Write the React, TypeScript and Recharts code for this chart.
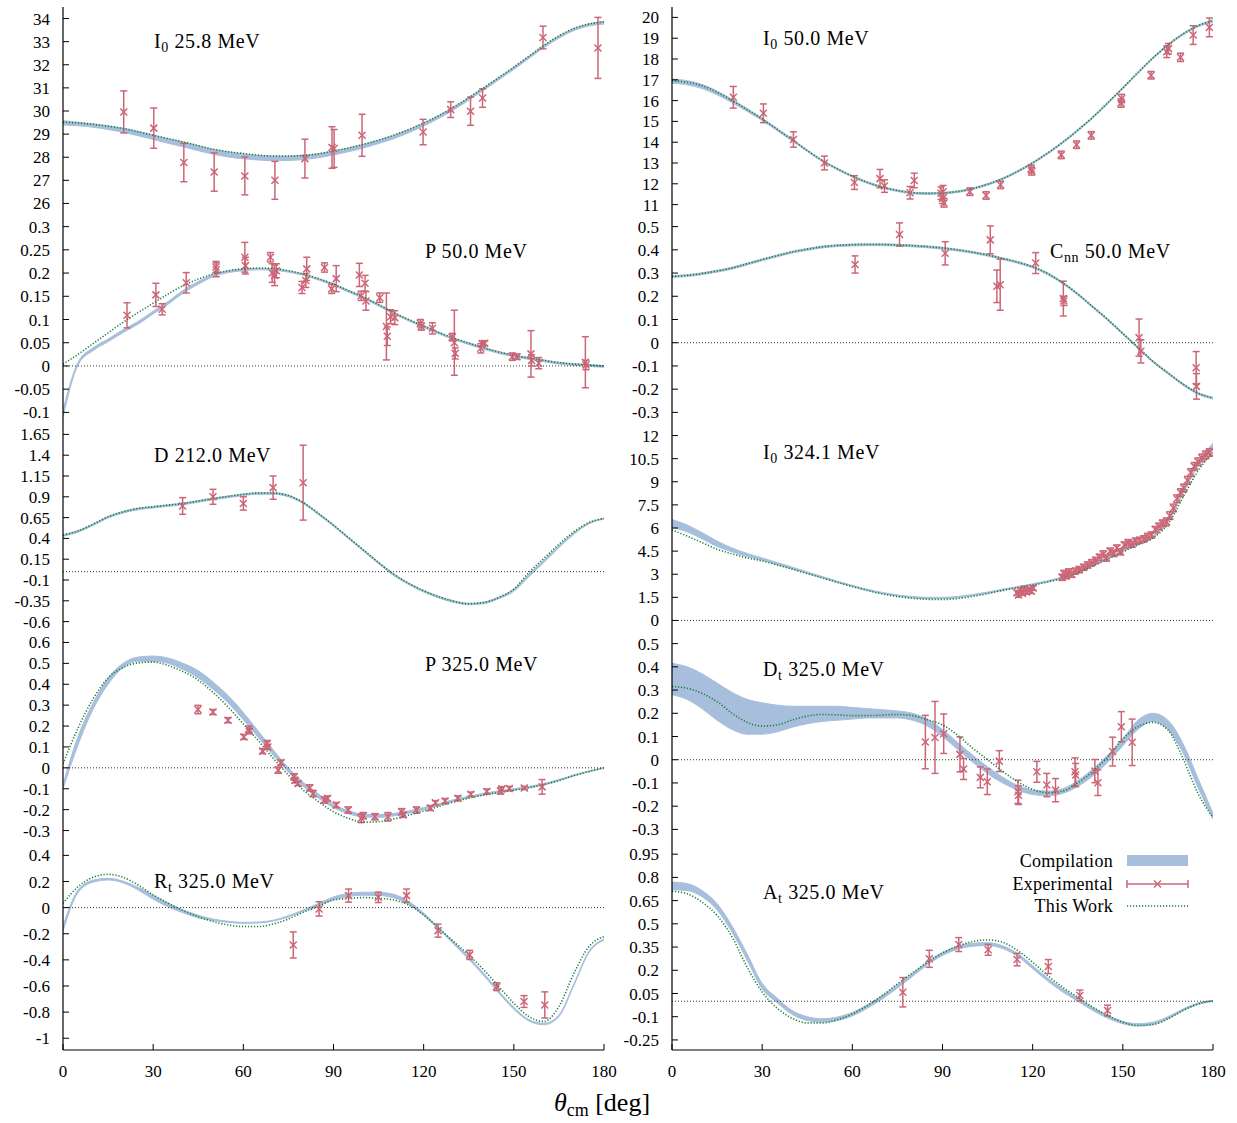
import React from 'react';
import { ComposedChart, Area, Line, Scatter, ErrorBar, XAxis, YAxis, ReferenceLine } from 'recharts';

const FONT = '"Liberation Serif", "DejaVu Serif", serif';
const RED = '#cc6677';
const BLUE = '#a7bfdc';
const GREEN = '#1a7f3a';

const THETA = [0, 5, 10, 15, 20, 25, 30, 35, 40, 45, 50, 55, 60, 65, 70, 75, 80, 85, 90, 95, 100, 105, 110, 115, 120, 125, 130, 135, 140, 145, 150, 155, 160, 165, 170, 175, 180];
const X_TICKS = [0, 30, 60, 90, 120, 150, 180];

// I0 25.8 MeV
const I0_25_TICKS = [26, 27, 28, 29, 30, 31, 32, 33, 34];
const I0_25_WORK = [29.52, 29.48, 29.42, 29.34, 29.24, 29.1, 28.95, 28.8, 28.66, 28.5, 28.34, 28.24, 28.16, 28.09, 28.05, 28.05, 28.08, 28.15, 28.27, 28.4, 28.56, 28.74, 28.95, 29.2, 29.48, 29.8, 30.17, 30.58, 31.01, 31.45, 31.9, 32.37, 32.84, 33.25, 33.57, 33.77, 33.85];
const I0_25_LO = [29.4, 29.36, 29.3, 29.2, 29.08, 28.93, 28.77, 28.6, 28.45, 28.28, 28.13, 28.01, 27.93, 27.88, 27.85, 27.86, 27.9, 27.98, 28.1, 28.24, 28.4, 28.59, 28.8, 29.06, 29.35, 29.68, 30.05, 30.47, 30.9, 31.35, 31.8, 32.27, 32.74, 33.15, 33.48, 33.68, 33.76];
const I0_25_HI = [29.58, 29.52, 29.45, 29.36, 29.26, 29.12, 28.96, 28.8, 28.66, 28.5, 28.34, 28.23, 28.14, 28.08, 28.05, 28.05, 28.08, 28.15, 28.27, 28.4, 28.56, 28.74, 28.95, 29.2, 29.48, 29.8, 30.17, 30.58, 31.01, 31.45, 31.9, 32.37, 32.84, 33.25, 33.57, 33.77, 33.88];
const I0_25_EXP = [[20.2, 29.96, 0.91], [30.2, 29.26, 0.87], [40.2, 27.77, 0.83], [50.3, 27.36, 0.83], [60.5, 27.19, 0.82], [70.5, 27.0, 0.82], [80.5, 27.94, 0.84], [89.5, 28.42, 0.9], [90.2, 28.38, 0.82], [99.5, 28.95, 0.91], [119.8, 29.09, 0.55], [129.0, 30.06, 0.34], [135.6, 29.99, 0.61], [139.6, 30.56, 0.4], [159.7, 33.18, 0.49], [178.0, 32.73, 1.32]];

// I0 50.0 MeV
const I0_50_TICKS = [11, 12, 13, 14, 15, 16, 17, 18, 19, 20];
const I0_50_WORK = [16.96, 16.88, 16.72, 16.4, 16.0, 15.57, 15.12, 14.62, 14.12, 13.6, 13.12, 12.72, 12.37, 12.07, 11.84, 11.68, 11.57, 11.54, 11.56, 11.63, 11.77, 11.98, 12.25, 12.6, 13.01, 13.48, 14.0, 14.58, 15.2, 15.9, 16.61, 17.35, 18.05, 18.68, 19.2, 19.6, 19.84];
const I0_50_LO = [16.84, 16.76, 16.58, 16.28, 15.9, 15.48, 15.04, 14.55, 14.06, 13.55, 13.07, 12.67, 12.32, 12.02, 11.79, 11.63, 11.52, 11.49, 11.51, 11.58, 11.72, 11.93, 12.2, 12.55, 12.96, 13.43, 13.95, 14.53, 15.15, 15.85, 16.56, 17.3, 18.0, 18.63, 19.15, 19.55, 19.78];
const I0_50_HI = [17.04, 16.96, 16.78, 16.46, 16.06, 15.62, 15.16, 14.66, 14.15, 13.63, 13.15, 12.75, 12.4, 12.1, 11.87, 11.71, 11.6, 11.57, 11.59, 11.66, 11.8, 12.01, 12.28, 12.63, 13.04, 13.51, 14.03, 14.61, 15.23, 15.93, 16.64, 17.38, 18.08, 18.71, 19.23, 19.63, 19.88];
const I0_50_EXP = [[20.4, 16.16, 0.52], [30.4, 15.39, 0.45], [40.4, 14.13, 0.37], [50.7, 13.0, 0.33], [60.7, 12.06, 0.33], [69.2, 12.25, 0.44], [70.7, 11.89, 0.3], [79.2, 11.57, 0.3], [80.6, 12.16, 0.35], [89.5, 11.55, 0.3], [90.0, 11.3, 0.25], [90.5, 11.08, 0.2], [90.2, 11.62, 0.3], [99.1, 11.62, 0.18], [104.5, 11.44, 0.18], [109.3, 11.95, 0.18], [119.5, 12.72, 0.18], [119.7, 12.6, 0.18], [129.5, 13.39, 0.18], [134.6, 13.88, 0.18], [139.5, 14.33, 0.18], [149.4, 15.88, 0.2], [149.6, 16.1, 0.2], [159.4, 17.22, 0.18], [164.6, 18.35, 0.28], [165.2, 18.5, 0.25], [169.2, 18.08, 0.2], [173.4, 19.15, 0.45], [178.8, 19.52, 0.45]];

// P 50.0 MeV
const P50_TICKS = [-0.1, -0.05, 0, 0.05, 0.1, 0.15, 0.2, 0.25, 0.3];
const P50_WORK = [0.004, 0.025, 0.048, 0.071, 0.094, 0.115, 0.135, 0.155, 0.173, 0.187, 0.198, 0.205, 0.209, 0.211, 0.21, 0.205, 0.198, 0.188, 0.176, 0.162, 0.148, 0.132, 0.115, 0.1, 0.086, 0.072, 0.06, 0.049, 0.039, 0.03, 0.023, 0.017, 0.012, 0.007, 0.004, 0.002, 0.0];
const P50_LO = [-0.11, 0.002, 0.033, 0.052, 0.072, 0.09, 0.112, 0.133, 0.157, 0.176, 0.192, 0.201, 0.205, 0.207, 0.206, 0.202, 0.195, 0.185, 0.173, 0.159, 0.145, 0.129, 0.112, 0.097, 0.083, 0.069, 0.057, 0.046, 0.036, 0.027, 0.02, 0.014, 0.009, 0.004, 0.001, -0.001, -0.003];
const P50_HI = [-0.095, 0.008, 0.039, 0.058, 0.078, 0.096, 0.118, 0.139, 0.163, 0.182, 0.197, 0.205, 0.209, 0.21, 0.209, 0.205, 0.198, 0.188, 0.177, 0.163, 0.149, 0.133, 0.116, 0.1, 0.087, 0.073, 0.06, 0.05, 0.04, 0.031, 0.024, 0.018, 0.013, 0.008, 0.005, 0.003, 0.001];
const P50_EXP = [[21.3, 0.109, 0.027], [30.9, 0.153, 0.025], [33.0, 0.122, 0.012], [41.0, 0.179, 0.022], [50.9, 0.213, 0.012], [51.0, 0.207, 0.015], [60.5, 0.234, 0.032], [60.7, 0.216, 0.018], [69.0, 0.234, 0.01], [69.6, 0.2, 0.02], [70.4, 0.195, 0.022], [71.0, 0.205, 0.015], [79.5, 0.169, 0.013], [80.8, 0.184, 0.015], [81.1, 0.209, 0.025], [87.0, 0.212, 0.01], [89.4, 0.166, 0.01], [90.9, 0.188, 0.028], [98.6, 0.196, 0.025], [99.2, 0.151, 0.01], [100.5, 0.178, 0.017], [100.8, 0.14, 0.02], [105.4, 0.147, 0.01], [107.6, 0.085, 0.072], [107.9, 0.064, 0.02], [109.0, 0.106, 0.015], [110.4, 0.104, 0.015], [118.9, 0.092, 0.008], [119.2, 0.085, 0.008], [122.9, 0.081, 0.012], [129.5, 0.062, 0.008], [130.2, 0.05, 0.07], [130.5, 0.027, 0.012], [139.0, 0.038, 0.01], [139.5, 0.048, 0.005], [140.3, 0.049, 0.005], [149.5, 0.02, 0.008], [151.0, 0.02, 0.006], [155.7, 0.026, 0.05], [155.9, 0.012, 0.012], [158.3, 0.006, 0.012], [173.8, 0.008, 0.055], [174.0, 0.002, 0.01]];

// Cnn 50.0 MeV
const CNN_TICKS = [-0.3, -0.2, -0.1, 0, 0.1, 0.2, 0.3, 0.4, 0.5];
const CNN_WORK = [0.286, 0.29, 0.298, 0.309, 0.322, 0.34, 0.358, 0.375, 0.391, 0.403, 0.413, 0.419, 0.422, 0.423, 0.423, 0.421, 0.418, 0.414, 0.408, 0.4, 0.39, 0.378, 0.363, 0.347, 0.327, 0.298, 0.258, 0.21, 0.155, 0.1, 0.04, -0.02, -0.08, -0.13, -0.178, -0.217, -0.238];
const CNN_LO = [0.281, 0.285, 0.293, 0.304, 0.317, 0.335, 0.353, 0.37, 0.386, 0.398, 0.408, 0.414, 0.417, 0.418, 0.418, 0.416, 0.413, 0.409, 0.403, 0.395, 0.385, 0.373, 0.358, 0.342, 0.322, 0.293, 0.253, 0.205, 0.15, 0.095, 0.035, -0.025, -0.085, -0.135, -0.183, -0.222, -0.243];
const CNN_HI = [0.289, 0.293, 0.301, 0.312, 0.325, 0.343, 0.361, 0.378, 0.394, 0.406, 0.416, 0.422, 0.425, 0.426, 0.426, 0.424, 0.421, 0.417, 0.411, 0.403, 0.393, 0.381, 0.366, 0.35, 0.33, 0.301, 0.261, 0.213, 0.158, 0.103, 0.043, -0.017, -0.077, -0.127, -0.175, -0.214, -0.235];
const CNN_EXP = [[60.9, 0.337, 0.037], [75.7, 0.466, 0.05], [90.9, 0.385, 0.05], [105.9, 0.443, 0.06], [108.1, 0.243, 0.07], [109.2, 0.25, 0.11], [121.0, 0.343, 0.045], [130.2, 0.19, 0.075], [130.4, 0.18, 0.02], [155.4, 0.022, 0.08], [156.0, -0.037, 0.05], [174.4, -0.108, 0.07], [174.5, -0.188, 0.055]];

// D 212.0 MeV
const D_TICKS = [-0.6, -0.35, -0.1, 0.15, 0.4, 0.65, 0.9, 1.15, 1.4, 1.65];
const D_WORK = [0.44, 0.49, 0.57, 0.66, 0.72, 0.76, 0.78, 0.8, 0.82, 0.85, 0.88, 0.905, 0.93, 0.945, 0.945, 0.915, 0.83, 0.7, 0.56, 0.41, 0.26, 0.11, -0.03, -0.14, -0.23, -0.3, -0.355, -0.385, -0.37, -0.31, -0.21, -0.01, 0.16, 0.33, 0.48, 0.59, 0.64];
const D_LO = [0.425, 0.475, 0.555, 0.645, 0.705, 0.745, 0.765, 0.785, 0.805, 0.835, 0.865, 0.89, 0.915, 0.93, 0.93, 0.9, 0.815, 0.685, 0.545, 0.395, 0.245, 0.095, -0.045, -0.155, -0.245, -0.315, -0.37, -0.397, -0.385, -0.325, -0.235, -0.06, 0.11, 0.29, 0.45, 0.575, 0.632];
const D_HI = [0.445, 0.495, 0.575, 0.665, 0.725, 0.765, 0.785, 0.805, 0.825, 0.855, 0.885, 0.91, 0.935, 0.95, 0.95, 0.92, 0.835, 0.705, 0.565, 0.415, 0.265, 0.115, -0.025, -0.135, -0.225, -0.295, -0.35, -0.38, -0.365, -0.305, -0.21, -0.03, 0.14, 0.315, 0.47, 0.588, 0.645];
const D_EXP = [[39.8, 0.79, 0.1], [49.9, 0.9, 0.09], [60.0, 0.82, 0.08], [69.9, 1.01, 0.14], [79.9, 1.07, 0.45]];

// I0 324.1 MeV
const I0_324_TICKS = [0, 1.5, 3, 4.5, 6, 7.5, 9, 10.5, 12];
const I0_324_WORK = [5.87, 5.48, 5.05, 4.62, 4.32, 4.06, 3.86, 3.6, 3.33, 3.04, 2.76, 2.47, 2.2, 1.94, 1.72, 1.55, 1.44, 1.37, 1.36, 1.42, 1.56, 1.74, 1.95, 2.13, 2.3, 2.5, 2.75, 3.1, 3.52, 3.98, 4.45, 4.9, 5.35, 6.25, 8.0, 9.7, 10.95];
const I0_324_LO = [6.05, 5.75, 5.3, 4.8, 4.45, 4.15, 3.9, 3.62, 3.34, 3.05, 2.76, 2.47, 2.2, 1.95, 1.74, 1.58, 1.47, 1.41, 1.41, 1.48, 1.6, 1.76, 1.95, 2.12, 2.3, 2.5, 2.76, 3.1, 3.53, 3.99, 4.47, 4.9, 5.38, 6.4, 8.25, 10.0, 11.2];
const I0_324_HI = [6.55, 6.2, 5.7, 5.15, 4.7, 4.35, 4.06, 3.76, 3.46, 3.15, 2.85, 2.55, 2.28, 2.02, 1.82, 1.66, 1.55, 1.5, 1.5, 1.56, 1.68, 1.84, 2.03, 2.2, 2.38, 2.58, 2.84, 3.2, 3.63, 4.09, 4.57, 5.0, 5.5, 6.55, 8.45, 10.25, 11.5];
const I0_324_EXP = [[114.8, 1.8, 0.15], [115.3, 1.65, 0.15], [116.0, 1.95, 0.15], [116.6, 1.75, 0.12], [117.4, 2.05, 0.15], [118.0, 1.85, 0.15], [118.8, 2.0, 0.12], [119.5, 1.9, 0.15], [120.2, 2.1, 0.15], [129.8, 2.8, 0.2], [130.4, 3.05, 0.2], [131.2, 2.9, 0.2], [132.0, 3.15, 0.2], [133.0, 3.0, 0.2], [134.2, 3.2, 0.2], [135.5, 3.3, 0.2], [137.0, 3.45, 0.2], [138.3, 3.6, 0.2], [139.6, 3.75, 0.2], [141.0, 3.9, 0.2], [142.2, 4.1, 0.2], [143.5, 4.3, 0.22], [144.5, 4.05, 0.2], [145.8, 4.5, 0.2], [147.0, 4.35, 0.2], [148.0, 4.7, 0.2], [149.2, 4.45, 0.2], [150.5, 4.9, 0.2], [151.8, 5.05, 0.2], [153.0, 4.95, 0.2], [154.3, 5.15, 0.2], [155.6, 5.2, 0.2], [157.0, 5.3, 0.2], [158.2, 5.45, 0.2], [159.5, 5.55, 0.2], [160.8, 5.9, 0.2], [162.0, 6.1, 0.22], [163.2, 6.3, 0.22], [164.5, 6.4, 0.25], [165.6, 6.8, 0.25], [166.8, 7.3, 0.25], [168.0, 7.9, 0.25], [169.2, 8.3, 0.25], [170.3, 8.6, 0.25], [171.5, 9.1, 0.25], [172.6, 9.6, 0.25], [173.8, 10.0, 0.25], [175.0, 10.3, 0.25], [176.3, 10.55, 0.25], [177.6, 10.75, 0.25], [178.8, 10.9, 0.25]];

// P 325.0 MeV
const P325_TICKS = [-0.3, -0.2, -0.1, 0, 0.1, 0.2, 0.3, 0.4, 0.5, 0.6];
const P325_WORK = [0.02, 0.19, 0.33, 0.43, 0.48, 0.502, 0.506, 0.49, 0.46, 0.42, 0.36, 0.29, 0.21, 0.13, 0.045, -0.035, -0.107, -0.162, -0.21, -0.242, -0.26, -0.258, -0.245, -0.226, -0.207, -0.185, -0.163, -0.145, -0.13, -0.118, -0.107, -0.095, -0.08, -0.06, -0.037, -0.017, 0.0];
const P325_LO = [-0.1, 0.11, 0.28, 0.4, 0.48, 0.51, 0.51, 0.5, 0.47, 0.43, 0.375, 0.31, 0.23, 0.145, 0.06, -0.02, -0.09, -0.145, -0.19, -0.22, -0.235, -0.237, -0.23, -0.217, -0.2, -0.18, -0.16, -0.144, -0.13, -0.118, -0.107, -0.096, -0.082, -0.062, -0.039, -0.019, -0.002];
const P325_HI = [-0.08, 0.15, 0.31, 0.43, 0.5, 0.53, 0.535, 0.525, 0.5, 0.465, 0.41, 0.345, 0.265, 0.175, 0.085, 0.0, -0.07, -0.125, -0.175, -0.205, -0.222, -0.224, -0.218, -0.206, -0.19, -0.172, -0.152, -0.136, -0.122, -0.11, -0.1, -0.089, -0.075, -0.056, -0.034, -0.015, 0.002];
const P325_EXP = [[44.9, 0.279, 0.02], [49.9, 0.267, 0.012], [54.9, 0.228, 0.012], [60.2, 0.148, 0.012], [61.8, 0.185, 0.015], [62.0, 0.175, 0.012], [66.4, 0.08, 0.012], [67.9, 0.116, 0.015], [68.1, 0.1, 0.012], [71.6, -0.011, 0.015], [72.5, 0.025, 0.012], [76.9, -0.043, 0.015], [77.2, -0.06, 0.012], [78.2, -0.075, 0.01], [82.1, -0.096, 0.015], [83.2, -0.123, 0.015], [87.0, -0.154, 0.015], [88.0, -0.146, 0.012], [90.9, -0.178, 0.012], [94.9, -0.202, 0.015], [99.2, -0.242, 0.02], [99.9, -0.229, 0.015], [103.8, -0.234, 0.015], [108.1, -0.234, 0.02], [112.7, -0.21, 0.015], [113.2, -0.225, 0.012], [117.6, -0.202, 0.015], [122.2, -0.192, 0.012], [123.9, -0.167, 0.01], [127.1, -0.159, 0.012], [131.4, -0.146, 0.012], [135.7, -0.126, 0.01], [141.0, -0.113, 0.012], [145.6, -0.111, 0.015], [146.0, -0.1, 0.01], [148.5, -0.099, 0.01], [153.5, -0.096, 0.008], [159.4, -0.091, 0.035]];

// Dt 325.0 MeV
const DT_TICKS = [-0.3, -0.2, -0.1, 0, 0.1, 0.2, 0.3, 0.4, 0.5];
const DT_WORK = [0.315, 0.308, 0.286, 0.25, 0.2, 0.161, 0.145, 0.15, 0.171, 0.188, 0.195, 0.193, 0.19, 0.19, 0.192, 0.195, 0.19, 0.172, 0.15, 0.106, 0.05, 0.0, -0.05, -0.095, -0.128, -0.142, -0.135, -0.1, -0.05, 0.013, 0.09, 0.142, 0.161, 0.128, 0.006, -0.145, -0.25];
const DT_LO = [0.28, 0.26, 0.22, 0.17, 0.13, 0.11, 0.11, 0.12, 0.14, 0.155, 0.165, 0.17, 0.175, 0.18, 0.18, 0.18, 0.17, 0.145, 0.1, 0.045, -0.01, -0.06, -0.1, -0.13, -0.15, -0.155, -0.145, -0.115, -0.07, -0.01, 0.06, 0.13, 0.165, 0.13, 0.03, -0.12, -0.255];
const DT_HI = [0.415, 0.4, 0.37, 0.33, 0.29, 0.26, 0.245, 0.235, 0.23, 0.23, 0.23, 0.23, 0.225, 0.22, 0.215, 0.21, 0.2, 0.175, 0.13, 0.075, 0.02, -0.03, -0.075, -0.11, -0.13, -0.135, -0.125, -0.09, -0.04, 0.02, 0.09, 0.17, 0.2, 0.17, 0.07, -0.08, -0.23];
const DT_EXP = [[84.3, 0.076, 0.115], [87.5, 0.096, 0.155], [90.4, 0.112, 0.085], [95.8, 0.023, 0.075], [97.0, -0.04, 0.045], [102.6, -0.076, 0.045], [104.9, -0.095, 0.055], [108.9, -0.006, 0.045], [115.1, -0.138, 0.05], [115.3, -0.153, 0.04], [121.4, -0.052, 0.045], [124.7, -0.109, 0.05], [127.6, -0.131, 0.05], [134.1, -0.052, 0.06], [134.3, -0.066, 0.05], [140.7, -0.049, 0.05], [141.7, -0.099, 0.055], [146.6, 0.035, 0.062], [149.5, 0.142, 0.065], [153.1, 0.075, 0.1]];

// Rt 325.0 MeV
const RT_TICKS = [-1, -0.8, -0.6, -0.4, -0.2, 0, 0.2, 0.4];
const RT_WORK = [0.033, 0.16, 0.232, 0.255, 0.232, 0.173, 0.097, 0.033, -0.023, -0.069, -0.107, -0.133, -0.145, -0.145, -0.125, -0.087, -0.035, 0.01, 0.059, 0.07, 0.077, 0.071, 0.059, 0.02, -0.056, -0.158, -0.26, -0.362, -0.477, -0.605, -0.732, -0.834, -0.872, -0.758, -0.503, -0.298, -0.222];
const RT_LO = [-0.18, 0.115, 0.195, 0.212, 0.19, 0.135, 0.065, 0.005, -0.04, -0.078, -0.098, -0.113, -0.12, -0.118, -0.103, -0.072, -0.028, 0.013, 0.06, 0.085, 0.095, 0.093, 0.075, 0.025, -0.06, -0.165, -0.28, -0.395, -0.52, -0.655, -0.778, -0.868, -0.897, -0.835, -0.595, -0.345, -0.248];
const RT_HI = [-0.14, 0.135, 0.21, 0.224, 0.202, 0.155, 0.095, 0.035, -0.018, -0.058, -0.088, -0.105, -0.113, -0.111, -0.096, -0.062, -0.017, 0.032, 0.082, 0.108, 0.118, 0.117, 0.102, 0.048, -0.042, -0.152, -0.263, -0.378, -0.503, -0.638, -0.763, -0.857, -0.886, -0.822, -0.582, -0.333, -0.24];
const RT_EXP = [[76.6, -0.286, 0.1], [85.2, -0.01, 0.055], [95.0, 0.092, 0.05], [104.9, 0.079, 0.04], [114.3, 0.092, 0.05], [124.8, -0.176, 0.05], [135.3, -0.362, 0.035], [144.3, -0.605, 0.03], [153.4, -0.719, 0.045], [160.3, -0.745, 0.1]];

// At 325.0 MeV
const AT_TICKS = [-0.25, -0.1, 0.05, 0.2, 0.35, 0.5, 0.65, 0.8, 0.95];
const AT_WORK = [0.711, 0.694, 0.64, 0.554, 0.414, 0.22, 0.06, -0.045, -0.11, -0.14, -0.14, -0.12, -0.082, -0.028, 0.037, 0.112, 0.183, 0.252, 0.312, 0.355, 0.386, 0.396, 0.381, 0.327, 0.252, 0.166, 0.09, 0.026, -0.039, -0.093, -0.136, -0.157, -0.151, -0.114, -0.06, -0.017, 0.004];
const AT_LO = [0.72, 0.715, 0.675, 0.59, 0.445, 0.265, 0.08, -0.01, -0.085, -0.125, -0.135, -0.125, -0.095, -0.045, 0.015, 0.085, 0.16, 0.235, 0.295, 0.335, 0.355, 0.36, 0.34, 0.29, 0.21, 0.13, 0.06, 0.0, -0.06, -0.11, -0.145, -0.16, -0.15, -0.115, -0.062, -0.022, -0.002];
const AT_HI = [0.77, 0.76, 0.715, 0.63, 0.485, 0.305, 0.115, 0.02, -0.06, -0.1, -0.113, -0.102, -0.072, -0.022, 0.038, 0.105, 0.18, 0.255, 0.315, 0.355, 0.375, 0.378, 0.358, 0.308, 0.23, 0.15, 0.08, 0.02, -0.04, -0.09, -0.13, -0.145, -0.135, -0.1, -0.05, -0.012, 0.004];
const AT_EXP = [[76.8, 0.058, 0.095], [85.6, 0.274, 0.055], [95.4, 0.366, 0.045], [105.2, 0.332, 0.035], [114.8, 0.269, 0.04], [125.2, 0.224, 0.045], [135.7, 0.037, 0.035], [144.9, -0.06, 0.035]];

const ROW_TOP = [7, 215, 424, 632, 841];
const ROW_H = [208, 209, 208, 209, 209];
const COL_LEFT = [63, 672];
const PLOT_W = 541;

const PANELS = [
  { col: 0, row: 0, name: 'I', sub: '0', energy: '25.8 MeV', tx: 154, tb: 48, domain: [25.5, 34.5], ticks: I0_25_TICKS, work: I0_25_WORK, lo: I0_25_LO, hi: I0_25_HI, exp: I0_25_EXP, zero: false },
  { col: 1, row: 0, name: 'I', sub: '0', energy: '50.0 MeV', tx: 763, tb: 45, domain: [10.5, 20.5], ticks: I0_50_TICKS, work: I0_50_WORK, lo: I0_50_LO, hi: I0_50_HI, exp: I0_50_EXP, zero: false },
  { col: 0, row: 1, name: 'P', sub: '', energy: '50.0 MeV', tx: 425, tb: 258, domain: [-0.125, 0.325], ticks: P50_TICKS, work: P50_WORK, lo: P50_LO, hi: P50_HI, exp: P50_EXP, zero: true },
  { col: 1, row: 1, name: 'C', sub: 'nn', energy: '50.0 MeV', tx: 1050, tb: 258, domain: [-0.35, 0.55], ticks: CNN_TICKS, work: CNN_WORK, lo: CNN_LO, hi: CNN_HI, exp: CNN_EXP, zero: true },
  { col: 0, row: 2, name: 'D', sub: '', energy: '212.0 MeV', tx: 154, tb: 462, domain: [-0.725, 1.775], ticks: D_TICKS, work: D_WORK, lo: D_LO, hi: D_HI, exp: D_EXP, zero: true },
  { col: 1, row: 2, name: 'I', sub: '0', energy: '324.1 MeV', tx: 763, tb: 459, domain: [-0.75, 12.75], ticks: I0_324_TICKS, work: I0_324_WORK, lo: I0_324_LO, hi: I0_324_HI, exp: I0_324_EXP, zero: true },
  { col: 0, row: 3, name: 'P', sub: '', energy: '325.0 MeV', tx: 425, tb: 671, domain: [-0.35, 0.65], ticks: P325_TICKS, work: P325_WORK, lo: P325_LO, hi: P325_HI, exp: P325_EXP, zero: true },
  { col: 1, row: 3, name: 'D', sub: 't', energy: '325.0 MeV', tx: 763, tb: 676, domain: [-0.35, 0.55], ticks: DT_TICKS, work: DT_WORK, lo: DT_LO, hi: DT_HI, exp: DT_EXP, zero: true },
  { col: 0, row: 4, name: 'R', sub: 't', energy: '325.0 MeV', tx: 154, tb: 888, domain: [-1.09, 0.51], ticks: RT_TICKS, work: RT_WORK, lo: RT_LO, hi: RT_HI, exp: RT_EXP, zero: true },
  { col: 1, row: 4, name: 'A', sub: 't', energy: '325.0 MeV', tx: 763, tb: 899, domain: [-0.315, 1.035], ticks: AT_TICKS, work: AT_WORK, lo: AT_LO, hi: AT_HI, exp: AT_EXP, zero: true },
];

const Cross = (props: any) => {
  const { cx, cy } = props;
  if (cx == null || cy == null) return <g />;
  const s = 3.5;
  return (
    <g stroke={RED} strokeWidth={1.5}>
      <line x1={cx - s} y1={cy - s} x2={cx + s} y2={cy + s} />
      <line x1={cx - s} y1={cy + s} x2={cx + s} y2={cy - s} />
    </g>
  );
};

const tickStyle = { fill: '#000', fontSize: 17, fontFamily: FONT };

function Panel({ p }: { p: any }) {
  const data = THETA.map((x, i) => ({ x, w: p.work[i], lo: p.lo[i], hi: p.hi[i] }));
  const exp = p.exp.map((d: number[]) => ({ x: d[0], y: d[1], e: d[2] }));
  const bottom = p.row === 4;
  const M = 5;
  const MR = 25;
  const YW = 60;
  const XH = bottom ? 40 : 0;
  const plotH = ROW_H[p.row];
  return (
    <div style={{ position: 'absolute', left: COL_LEFT[p.col] - YW, top: ROW_TOP[p.row] - M }}>
      <ComposedChart width={YW + PLOT_W + MR} height={M + plotH + XH + M} data={data} margin={{ top: M, right: MR, bottom: M, left: 0 }}>
        <XAxis xAxisId={0} type="number" dataKey="x" domain={[0, 180]} ticks={X_TICKS} interval={0} allowDataOverflow
          height={XH} tickSize={-6} tickMargin={21} tick={bottom ? tickStyle : false}
          axisLine={{ stroke: '#000', strokeWidth: 1.2 }} tickLine={{ stroke: '#000' }} />
        <XAxis xAxisId="top" orientation="top" type="number" dataKey="x" domain={[0, 180]} ticks={X_TICKS} interval={0} allowDataOverflow
          height={0} tickSize={-6} tick={false} axisLine={{ stroke: '#000', strokeWidth: 1.2 }} tickLine={{ stroke: '#000' }} />
        <YAxis yAxisId={0} type="number" dataKey="y" domain={p.domain} ticks={p.ticks} interval={0} allowDataOverflow
          width={YW} tickSize={-6} tickMargin={19} tick={tickStyle}
          axisLine={{ stroke: '#000', strokeWidth: 1.2 }} tickLine={{ stroke: '#000' }} />
        <YAxis yAxisId="right" orientation="right" type="number" domain={p.domain} ticks={p.ticks} interval={0} allowDataOverflow
          width={0} tickSize={-6} tick={false} axisLine={{ stroke: '#000', strokeWidth: 1.2 }} tickLine={{ stroke: '#000' }} />
        {p.zero && <ReferenceLine y={0} stroke="#000" strokeWidth={0.8} strokeDasharray="1 2" />}
        <Area type="monotone" dataKey={(d: any) => [d.lo, d.hi]} fill={BLUE} fillOpacity={1} stroke={BLUE} strokeWidth={1}
          dot={false} activeDot={false} isAnimationActive={false} />
        <Scatter data={exp} shape={(sp: any) => <Cross {...sp} />} isAnimationActive={false}>
          <ErrorBar dataKey="e" direction="y" width={3.5} stroke={RED} strokeWidth={1.5} />
        </Scatter>
        <Line type="monotone" dataKey="w" stroke={GREEN} strokeWidth={1.6} strokeDasharray="1.2 1.8"
          dot={false} activeDot={false} isAnimationActive={false} />
      </ComposedChart>
      <div style={{ position: 'absolute', left: p.tx - COL_LEFT[p.col] + YW, top: p.tb - ROW_TOP[p.row] + M - 17, fontFamily: FONT, fontSize: 20, lineHeight: '20px', whiteSpace: 'nowrap', color: '#000', letterSpacing: 0.6 }}>
        {p.name}{p.sub && <span style={{ fontSize: 14, position: 'relative', top: 4 }}>{p.sub}</span>}{' '}{p.energy}
      </div>
    </div>
  );
}

function LegendBox() {
  const rows = [{ label: 'Compilation', y: 867 }, { label: 'Experimental', y: 890 }, { label: 'This Work', y: 912 }];
  return (
    <>
      {rows.map(r => (
        <div key={r.label} style={{ position: 'absolute', left: 900, width: 213, top: r.y - 15, textAlign: 'right', fontFamily: FONT, fontSize: 18, lineHeight: '18px', whiteSpace: 'nowrap', letterSpacing: 0.3 }}>
          {r.label}
        </div>
      ))}
      <svg style={{ position: 'absolute', left: 1120, top: 850 }} width={75} height={65}>
        <rect x={7} y={5} width={61} height={11} fill={BLUE} />
        <g stroke={RED} strokeWidth={1.5}>
          <line x1={7} y1={34} x2={68} y2={34} />
          <line x1={7} y1={30} x2={7} y2={38} />
          <line x1={68} y1={30} x2={68} y2={38} />
          <line x1={34} y1={30.5} x2={41} y2={37.5} />
          <line x1={34} y1={37.5} x2={41} y2={30.5} />
        </g>
        <line x1={7} y1={56} x2={68} y2={56} stroke={GREEN} strokeWidth={1.6} strokeDasharray="1.2 1.8" />
      </svg>
    </>
  );
}

export default function App() {
  return (
    <div style={{ position: 'absolute', left: 0, top: 0, width: 1237, height: 1123, background: '#fff' }}>
      {PANELS.map((p, i) => <Panel key={i} p={p} />)}
      <LegendBox />
      <div style={{ position: 'absolute', left: 452, width: 300, top: 1090, textAlign: 'center', fontFamily: FONT, fontSize: 26, lineHeight: '26px', whiteSpace: 'nowrap' }}>
        <i>θ</i><span style={{ fontSize: 18, position: 'relative', top: 5 }}>cm</span> [deg]
      </div>
    </div>
  );
}
